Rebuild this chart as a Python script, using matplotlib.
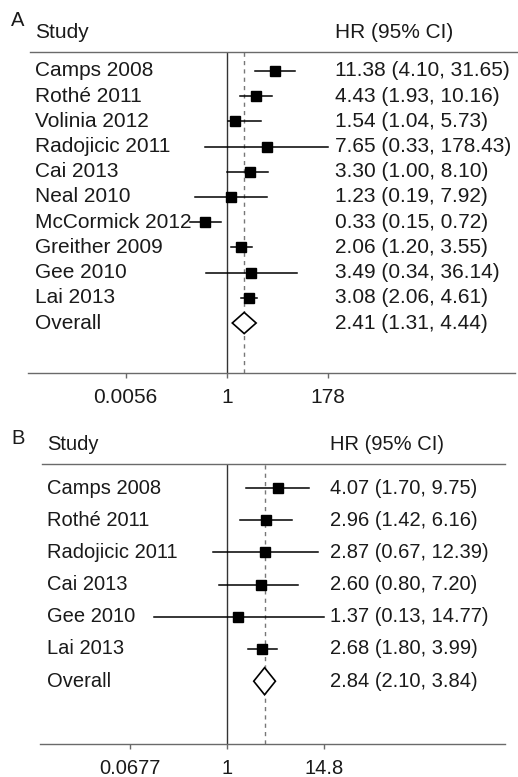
import numpy as np
import matplotlib
matplotlib.use('Agg')
import matplotlib.pyplot as plt
from matplotlib.patches import Polygon

plt.rcParams['font.family'] = ['Liberation Sans', 'DejaVu Sans']

# Panel A data
studiesA = ['Camps 2008', 'Rothé 2011', 'Volinia 2012', 'Radojicic 2011', 'Cai 2013',
            'Neal 2010', 'McCormick 2012', 'Greither 2009', 'Gee 2010', 'Lai 2013']
hrA = [11.38, 4.43, 1.54, 7.65, 3.30, 1.23, 0.33, 2.06, 3.49, 3.08]
lowA = [4.10, 1.93, 1.04, 0.33, 1.00, 0.19, 0.15, 1.20, 0.34, 2.06]
highA = [31.65, 10.16, 5.73, 178.43, 8.10, 7.92, 0.72, 3.55, 36.14, 4.61]
overallA = (2.41, 1.31, 4.44)
ticksA = [0.0056, 1, 178]
tickLabelsA = ['0.0056', '1', '178']

# Panel B data
studiesB = ['Camps 2008', 'Rothé 2011', 'Radojicic 2011', 'Cai 2013', 'Gee 2010', 'Lai 2013']
hrB = [4.07, 2.96, 2.87, 2.60, 1.37, 2.68]
lowB = [1.70, 1.42, 0.67, 0.80, 0.13, 1.80]
highB = [9.75, 6.16, 12.39, 7.20, 14.77, 3.99]
overallB = (2.84, 2.10, 3.84)
ticksB = [0.0677, 1, 14.8]
tickLabelsB = ['0.0677', '1', '14.8']

W, H = 518, 777
fig = plt.figure(figsize=(W / 100, H / 100), dpi=100)

txtCol = '#1a1a1a'
lineCol = '#6a6a6a'


def panel(letter, studies, hr, lo, hi, overall, ticks, tlabels,
          axL, axR, axTop, axBot, row0, rowStep, hdrL, hdrR, textX, hrX,
          letterXY, fs, tickMax):
    # axes spans from the x-axis line up to the header line (pixels)
    ax = fig.add_axes([axL / W, 1 - axBot / H, (axR - axL) / W, (axBot - axTop) / H])
    ax.set_xscale('log')
    # pixel scale: 1 sits at x=227, max tick sits at tickMax pixels
    pxPerLn = (tickMax - 227) / np.log(ticks[-1])
    ax.set_xlim(np.exp((axL - 227) / pxPerLn), np.exp((axR - 227) / pxPerLn))
    n = len(studies)
    yTop = (axTop - row0) / rowStep
    yBot = (axBot - row0) / rowStep
    ax.set_ylim(yBot, yTop)
    for s in ['top', 'left', 'right']:
        ax.spines[s].set_visible(False)
    ax.spines['bottom'].set_color(lineCol)
    ax.spines['bottom'].set_linewidth(1.0)
    ax.set_yticks([])
    ax.set_xticks(ticks)
    ax.set_xticklabels(tlabels, fontsize=fs, color=txtCol)
    ax.xaxis.set_minor_locator(matplotlib.ticker.NullLocator())
    ax.tick_params(axis='x', length=3.6, width=1, color=lineCol, pad=7)

    # reference lines
    ax.axvline(1, color='#333333', lw=1.0)
    ax.axvline(overall[0], color='#777777', lw=1.0, ls=(0, (3, 3)))

    y = np.arange(n)
    for i in range(n):
        ax.plot([lo[i], hi[i]], [y[i], y[i]], color='black', lw=1.1)
    ax.plot(hr, y, 's', color='black', ms=7.6)

    # overall diamond
    yo = n
    dh = 0.42
    dia = Polygon([(overall[1], yo), (overall[0], yo - dh), (overall[2], yo),
                   (overall[0], yo + dh)], closed=True, fill=True,
                  facecolor='white', edgecolor='black', lw=1.2, zorder=3)
    ax.add_patch(dia)

    # text columns
    tr = matplotlib.transforms.blended_transform_factory(fig.transFigure, ax.transData)
    labels = studies + ['Overall']
    vals = list(zip(hr, lo, hi)) + [overall]
    for i, (lab, v) in enumerate(zip(labels, vals)):
        ax.text(textX / W, i, lab, transform=tr, fontsize=fs, color=txtCol,
                va='center', ha='left', clip_on=False)
        ax.text(hrX / W, i, '%.2f (%.2f, %.2f)' % v, transform=tr, fontsize=fs,
                color=txtCol, va='center', ha='left', clip_on=False)

    # headers
    hy = 1 - (axTop - 19) / H
    fig.text(textX / W, hy, 'Study', fontsize=fs, color=txtCol, va='center')
    fig.text(hrX / W, hy, 'HR (95% CI)', fontsize=fs, color=txtCol, va='center')
    fig.add_artist(plt.Line2D([hdrL / W, hdrR / W], [1 - axTop / H, 1 - axTop / H],
                              color=lineCol, lw=1.0))
    fig.text(letterXY[0] / W, 1 - letterXY[1] / H, letter, fontsize=14.5,
             color=txtCol, va='center', ha='left')
    return ax


panel('A', studiesA, hrA, lowA, highA, overallA, ticksA, tickLabelsA,
      axL=28, axR=515, axTop=52, axBot=373, row0=71, rowStep=25.2,
      hdrL=30, hdrR=518, textX=35, hrX=335, letterXY=(11, 21), fs=15,
      tickMax=328.3)

panel('B', studiesB, hrB, lowB, highB, overallB, ticksB, tickLabelsB,
      axL=40, axR=505, axTop=464, axBot=744, row0=488, rowStep=32.2,
      hdrL=42, hdrR=505, textX=47, hrX=330, letterXY=(11, 438), fs=14.5,
      tickMax=324)

fig.savefig('out.png', dpi=100, facecolor='white')
